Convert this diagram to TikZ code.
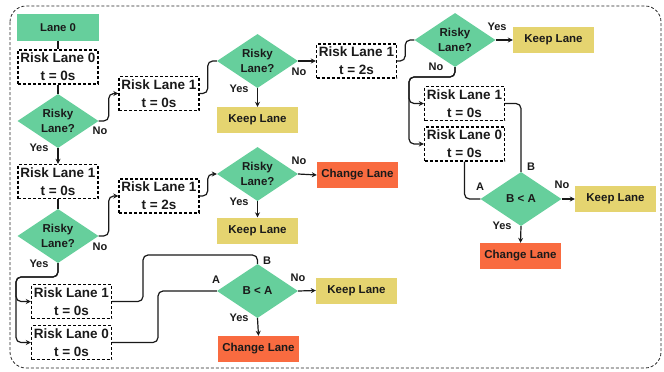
\documentclass[tikz,border=0pt]{standalone}
\usepackage{fontspec}
\setmainfont{Liberation Sans}
\usetikzlibrary{shapes.geometric,arrows.meta}
\definecolor{cgreen}{HTML}{66CF9C}
\definecolor{cyellow}{HTML}{E5D470}
\definecolor{corange}{HTML}{F96B40}
\definecolor{ctext}{HTML}{1A1A1A}
\tikzset{
  titlebox/.style={fill=cgreen, minimum width=82pt, minimum height=27pt, inner sep=0pt, font=\fontsize{11.3}{13}\selectfont\bfseries, text=ctext},
  riskbox/.style={draw=black, dash pattern=on 3pt off 2pt, line width=1.4pt, minimum width=80pt, minimum height=34pt, inner sep=0pt, align=center, font=\fontsize{13.5}{18}\selectfont\bfseries, text=ctext},
  decide/.style={diamond, fill=cgreen, aspect=1.5, inner sep=0pt, minimum width=81pt, minimum height=54pt, align=center, font=\fontsize{11.5}{15}\selectfont\bfseries, text=ctext},
  keepbox/.style={fill=cyellow, minimum width=81pt, minimum height=26pt, inner sep=0pt, font=\fontsize{11.5}{13}\selectfont\bfseries, text=ctext},
  changebox/.style={fill=corange, minimum width=81pt, minimum height=26pt, inner sep=0pt, font=\fontsize{11.5}{13}\selectfont\bfseries, text=ctext},
  lbl/.style={font=\fontsize{11}{12}\selectfont\bfseries, text=ctext, inner sep=0pt},
  conn/.style={draw=black!90, line width=1.2pt, rounded corners=5pt},
  arr/.style={conn, -{Stealth[length=5pt,width=5pt]}},
}
\begin{document}
\begin{tikzpicture}[x=1pt,y=-1pt]
\useasboundingbox (0,0) rectangle (664,372);
\draw[black!85, line width=0.8pt, dash pattern=on 3pt off 2pt, rounded corners=16pt] (10,6) rectangle (661,368);

% left column
\node[titlebox] (lane0) at (58,27.5) {Lane 0};
\node[riskbox] (rl0a) at (58,67) {Risk Lane 0\\t = 0s};
\node[decide] (d1) at (58,121) {Risky\\Lane?};
\node[riskbox] (rl1a) at (58,181.5) {Risk Lane 1\\t = 0s};
\node[decide] (d2) at (58,236) {Risky\\Lane?};
\node[riskbox] (rl1c) at (71.5,301.5) {Risk Lane 1\\t = 0s};
\node[riskbox] (rl0c) at (71.5,342.5) {Risk Lane 0\\t = 0s};

% second column
\node[riskbox] (rl1b) at (159,93.5) {Risk Lane 1\\t = 0s};
\node[riskbox] (rl2b) at (159,196) {Risk Lane 1\\t = 2s};

% third column
\node[decide] (d3) at (257.5,61) {Risky\\Lane?};
\node[keepbox] (k3) at (257.5,120) {Keep Lane};
\node[decide] (d4) at (257.5,174) {Risky\\Lane?};
\node[keepbox] (k4) at (257.5,230.5) {Keep Lane};
\node[decide] (d6) at (257.5,291) {B < A};
\node[changebox] (c6) at (258.5,349) {Change Lane};

% fourth column
\node[riskbox] (rl2a) at (356.5,61) {Risk Lane 1\\t = 2s};
\node[changebox] (c4) at (357.5,175) {Change Lane};
\node[keepbox] (k6) at (356.5,290.5) {Keep Lane};

% right part
\node[decide] (d5) at (455,40) {Risky\\Lane?};
\node[keepbox] (k5) at (553.5,40) {Keep Lane};
\node[riskbox] (rl1r) at (464.5,103.5) {Risk Lane 1\\t = 0s};
\node[riskbox] (rl0r) at (464.5,144) {Risk Lane 0\\t = 0s};
\node[decide] (d7) at (521,199) {B < A};
\node[keepbox] (k7) at (615.5,199) {Keep Lane};
\node[changebox] (c7) at (520.5,256) {Change Lane};

\coordinate (jl) at (16,277);
\coordinate (jr) at (409,77);

% connectors left column
\draw[conn] (lane0) -- (rl0a);
\draw[conn] (rl0a) -- (d1);
\draw[arr] (d1.south) -- (rl1a.north);
\draw[conn] (rl1a) -- (d2);
\draw[arr] (d1.east) -- ++(10,0) |- (rl1b.west);
\draw[arr] (d2.east) -- ++(10,0) |- (rl2b.west);
\draw[arr] (d2.south) |- (jl) |- (rl1c.west);
\draw[arr] (d2.south) |- (jl) |- (rl0c.west);
\draw[conn] (rl1c.east) -| (143,255) -| (d6.north);
\draw[conn] (rl0c.east) -| (158,291) -- (d6.west);

% middle
\draw[conn] (rl1b.east) -- ++(8,0) |- (d3.west);
\draw[arr] (rl2b.east) -- ++(8,0) |- (d4.west);
\draw[arr] (d3.east) -- (rl2a.west);
\draw[arr] (d3.south) -- (k3.north);
\draw[arr] (d4.east) -- (c4.west);
\draw[arr] (d4.south) -- (k4.north);
\draw[arr] (d6.east) -- (k6.west);
\draw[arr] (d6.south) -- (c6.north);

% right
\draw[conn] (rl2a.east) -- ++(8,0) |- (d5.west);
\draw[arr] (d5.east) -- (k5.west);
\draw[arr] (d5.south) |- (jr) |- (rl1r.west);
\draw[arr] (d5.south) |- (jr) |- (rl0r.west);
\draw[conn] (rl1r.east) -| (d7.north);
\draw[conn] (rl0r.south) |- (d7.west);
\draw[arr] (d7.east) -- (k7.west);
\draw[arr] (d7.south) -- (c7.north);

% labels
\node[lbl] (l1n) at (100,131) {No};
\node[lbl] (l1y) at (39,148) {Yes};
\node[lbl] (l2n) at (100,247) {No};
\node[lbl] (l2y) at (39,264) {Yes};
\node[lbl] (l3n) at (299,72) {No};
\node[lbl] (l3y) at (239,89) {Yes};
\node[lbl] (l4n) at (299,161) {No};
\node[lbl] (l4y) at (239,202) {Yes};
\node[lbl] (l5y) at (497,27) {Yes};
\node[lbl] (l5n) at (436,67) {No};
\node[lbl] (l6a) at (216,280) {A};
\node[lbl] (l6b) at (267,261) {B};
\node[lbl] (l6n) at (298,278) {No};
\node[lbl] (l6y) at (239,318) {Yes};
\node[lbl] (l7a) at (480,187) {A};
\node[lbl] (l7b) at (531,167) {B};
\node[lbl] (l7n) at (562,185) {No};
\node[lbl] (l7y) at (502,226) {Yes};
\end{tikzpicture}
\end{document}
